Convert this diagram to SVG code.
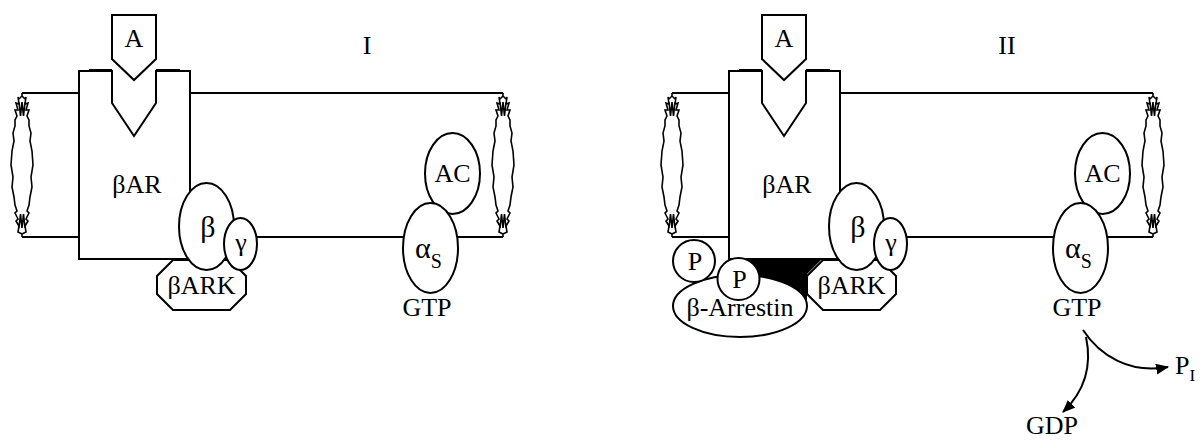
<svg xmlns="http://www.w3.org/2000/svg" width="1203" height="441" viewBox="0 0 1203 441">
<style>
.s{fill:none;stroke:#000;stroke-width:2}
.w{fill:#fff;stroke:#000;stroke-width:2}
.z{fill:#fff;stroke:#000;stroke-width:1.6;stroke-linejoin:miter}
.t{font-family:'Liberation Serif','DejaVu Serif',serif;font-size:26px;fill:#000;text-anchor:middle}
</style>
<defs>
<path id="zz" d="M0,0 L0,3 L-3,6 L-4,4 L-3,11 L-6,10 L-4,17 L-7,17 L-5,23 L-7,27 L-7,33 L-9,40 L-8,48 L-10,58 L-11,72 L-9,84 L-10,94 L-8,104 L-7,112 L-5,118 L-7,120 L-4,126 L-6,128 L-3,133 L-4,139 L0,141 L0,144 M0,3 L3,6 L4,4 L3,11 L6,10 L4,17 L7,17 L5,23 L7,27 L7,33 L9,40 L8,48 L10,58 L11,72 L9,84 L10,94 L8,104 L7,112 L5,118 L7,120 L4,126 L6,128 L3,133 L4,139 L0,141 M-3,9 L-1.5,23 L0,9 L1.5,23 L3,9 M-3,135 L-1.5,121 L0,135 L1.5,121 L3,135"/>
<marker id="ah" viewBox="0 0 12 10" refX="11" refY="5" markerWidth="13" markerHeight="11" markerUnits="userSpaceOnUse" orient="auto"><path d="M0,0 L12,5 L0,10 Z" fill="#000"/></marker>
</defs>
<rect width="1203" height="441" fill="#fff"/>

<g id="connectors">
  <g id="membrane1">
    <path class="s" d="M22,93 H79 M190,93 H503 M22,237 H79 M190,237 H503"/>
    <use href="#zz" x="22" y="93" class="z"/>
    <use href="#zz" x="503" y="93" class="z"/>
  </g>
  <g id="membrane2">
    <path class="s" d="M672,93 H729 M840,93 H1153 M672,237 H729 M840,237 H1153"/>
    <use href="#zz" x="672" y="93" class="z"/>
    <use href="#zz" x="1153" y="93" class="z"/>
  </g>
  <path class="s" d="M1083,330 C1100,356 1130,374 1168,367" marker-end="url(#ah)"/>
  <path class="s" d="M1086,337 C1092,365 1086,390 1063,412" marker-end="url(#ah)"/>
</g>

<g font-family="Liberation Serif, DejaVu Serif, serif">
<g id="label-I"><text class="t" x="367" y="54">I</text></g>
<g id="receptor1">
  <path class="w" d="M112,71 H79 V259 H190 V71 H156 V103 L134,136 L112,103 Z"/>
  <path class="s" d="M89,70 H112 M156,70 H180"/>
  <text class="t" x="137" y="193">βAR</text>
</g>
<g id="ligand1">
  <path class="w" d="M112,15 H156 V59 L134,80 L112,59 Z"/>
  <text class="t" x="134" y="47">A</text>
</g>
<g id="bark1">
  <polygon class="w" points="173,260 230,260 246,276 246,294 230,310 173,310 157,294 157,276"/>
  <text class="t" x="201.5" y="294">βARK</text>
</g>
<g id="beta1">
  <ellipse class="w" cx="206.5" cy="226.5" rx="27.5" ry="43.5"/>
  <text class="t" x="208" y="237" style="font-size:30px">β</text>
</g>
<g id="gamma1">
  <ellipse class="w" cx="240.5" cy="244" rx="16.5" ry="26"/>
  <text class="t" x="241" y="251">γ</text>
</g>
<g id="ac1">
  <ellipse class="w" cx="452.5" cy="173.5" rx="27.5" ry="40.5"/>
  <text class="t" x="452.5" y="182">AC</text>
</g>
<g id="alpha1">
  <ellipse class="w" cx="430.5" cy="248" rx="27.5" ry="45"/>
  <text class="t" x="415" y="258" style="text-anchor:start;font-size:30px">α<tspan dy="10" style="font-size:20px">S</tspan></text>
  <text class="t" x="427" y="316">GTP</text>
</g>

<g id="label-II"><text class="t" x="1007" y="54">II</text></g>
<g id="receptor2">
  <path class="w" d="M762,71 H729 V259 H840 V71 H806 V103 L784,136 L762,103 Z"/>
  <path class="s" d="M739,70 H762 M806,70 H830"/>
  <text class="t" x="787" y="193">βAR</text>
</g>
<g id="ligand2">
  <path class="w" d="M762,15 H806 V59 L784,80 L762,59 Z"/>
  <text class="t" x="784" y="47">A</text>
</g>
<g id="contact2">
  <polygon points="745,258 823,258 807,274 807,300 790,295 770,287 750,280 745,270" fill="#000"/>
</g>
<g id="bark2">
  <polygon class="w" points="823,260 880,260 896,276 896,294 880,310 823,310 807,294 807,276"/>
  <text class="t" x="851.5" y="294">βARK</text>
</g>
<g id="beta2">
  <ellipse class="w" cx="856.5" cy="226.5" rx="27.5" ry="43.5"/>
  <text class="t" x="858" y="237" style="font-size:30px">β</text>
</g>
<g id="gamma2">
  <ellipse class="w" cx="890.5" cy="244" rx="16.5" ry="26"/>
  <text class="t" x="891" y="251">γ</text>
</g>
<g id="arrestin2">
  <ellipse class="w" cx="740" cy="306" rx="67" ry="31"/>
  <text class="t" x="740" y="316">β-Arrestin</text>
</g>
<g id="p-left2">
  <circle class="w" cx="694" cy="261" r="21"/>
  <text class="t" x="695" y="270">P</text>
</g>
<g id="p-right2">
  <circle class="w" cx="738.5" cy="279" r="21"/>
  <text class="t" x="739.5" y="288">P</text>
</g>
<g id="ac2">
  <ellipse class="w" cx="1102.5" cy="173.5" rx="27.5" ry="40.5"/>
  <text class="t" x="1102.5" y="182">AC</text>
</g>
<g id="alpha2">
  <ellipse class="w" cx="1080.5" cy="248" rx="27.5" ry="45"/>
  <text class="t" x="1065" y="258" style="text-anchor:start;font-size:30px">α<tspan dy="10" style="font-size:20px">S</tspan></text>
  <text class="t" x="1077" y="316">GTP</text>
</g>
<g id="pi2">
  <text class="t" x="1175" y="374" style="text-anchor:start">P<tspan dy="7" style="font-size:17px">I</tspan></text>
</g>
<g id="gdp2">
  <text class="t" x="1052" y="434">GDP</text>
</g>
</g>
</svg>
